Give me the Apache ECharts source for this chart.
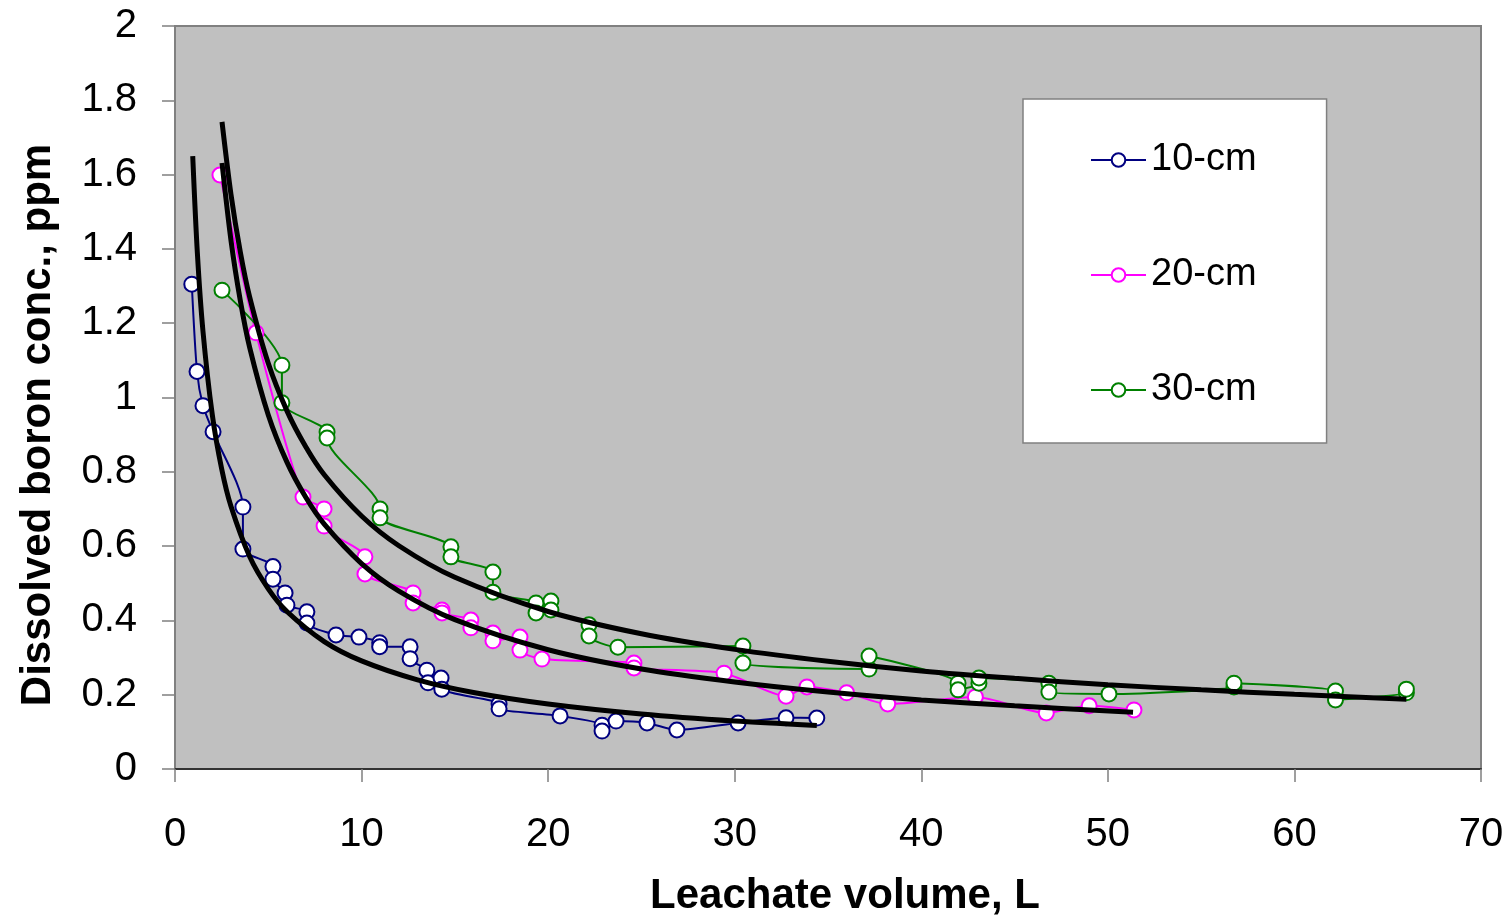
<!DOCTYPE html>
<html>
<head>
<meta charset="utf-8">
<script src="https://cdn.jsdelivr.net/npm/echarts@6/dist/echarts.min.js"></script>
<style>
html,body{margin:0;padding:0;background:#fff;}
#chart{width:1511px;height:922px;}
</style>
</head>
<body>
<div id="chart"></div>
<script>
// ---- data ----
var xTicks = [0, 10, 20, 30, 40, 50, 60, 70];
var yTicks = [0, 0.2, 0.4, 0.6, 0.8, 1, 1.2, 1.4, 1.6, 1.8, 2];

var seriesNames = ['10-cm', '20-cm', '30-cm'];

var depth10X = [0.9, 1.18, 1.5, 2.04, 3.64, 3.64, 5.25, 5.25, 5.9, 6.0, 7.07, 7.07, 8.63, 9.86, 10.97, 10.97, 12.6, 12.6, 13.5, 13.56, 14.26, 14.3, 17.37, 17.37, 20.64, 22.89, 22.89, 23.64, 25.3, 26.9, 30.18, 32.75, 34.4];
var depth10Y = [1.305, 1.07, 0.978, 0.908, 0.705, 0.592, 0.545, 0.511, 0.474, 0.441, 0.423, 0.393, 0.361, 0.355, 0.34, 0.329, 0.329, 0.297, 0.266, 0.232, 0.245, 0.215, 0.175, 0.162, 0.143, 0.118, 0.102, 0.129, 0.124, 0.105, 0.124, 0.138, 0.137];

var depth20X = [2.41, 4.34, 6.86, 7.99, 7.99, 10.18, 10.18, 12.76, 12.76, 14.31, 14.31, 15.86, 15.86, 17.04, 17.04, 18.49, 18.49, 19.67, 24.6, 24.6, 29.43, 32.75, 33.87, 36.0, 38.2, 42.9, 46.7, 49.0, 51.4];
var depth20Y = [1.599, 1.174, 0.732, 0.700, 0.654, 0.571, 0.525, 0.474, 0.447, 0.428, 0.420, 0.401, 0.380, 0.366, 0.345, 0.355, 0.320, 0.296, 0.285, 0.272, 0.258, 0.196, 0.221, 0.205, 0.175, 0.194, 0.151, 0.170, 0.159];

var depth30X = [2.52, 5.73, 5.73, 8.15, 8.15, 10.99, 10.99, 14.79, 14.79, 17.04, 17.04, 19.35, 19.35, 20.15, 20.15, 22.19, 22.19, 23.74, 30.44, 30.44, 37.2, 37.2, 41.97, 41.97, 43.09, 43.09, 46.84, 46.84, 50.06, 56.76, 56.76, 62.2, 62.2, 66.0, 66.0];
var depth30Y = [1.289, 1.087, 0.986, 0.907, 0.891, 0.700, 0.676, 0.598, 0.571, 0.530, 0.476, 0.447, 0.420, 0.452, 0.428, 0.388, 0.358, 0.328, 0.331, 0.285, 0.269, 0.304, 0.231, 0.213, 0.231, 0.245, 0.231, 0.207, 0.202, 0.221, 0.231, 0.210, 0.186, 0.205, 0.215];

// black trend curves
var trend10X = [0.95, 1.2, 1.5, 2, 2.5, 3, 4, 5, 6, 8, 10, 13, 16, 20, 25, 30, 34.4];
var trend10Y = [1.65, 1.388, 1.178, 0.953, 0.808, 0.707, 0.572, 0.485, 0.424, 0.343, 0.291, 0.240, 0.206, 0.175, 0.148, 0.129, 0.117];
var trend20X = [2.52, 3, 3.5, 4, 5, 6, 7, 8, 10, 12, 15, 20, 25, 30, 35, 40, 45, 51.35];
var trend20Y = [1.631, 1.423, 1.261, 1.135, 0.953, 0.826, 0.732, 0.659, 0.553, 0.479, 0.402, 0.321, 0.269, 0.234, 0.207, 0.186, 0.170, 0.153];
var trend30X = [2.52, 3, 3.5, 4, 5, 6, 7, 8, 10, 12, 15, 20, 25, 30, 35, 40, 45, 50, 55, 60, 66];
var trend30Y = [1.742, 1.547, 1.392, 1.271, 1.092, 0.964, 0.868, 0.792, 0.681, 0.601, 0.516, 0.424, 0.364, 0.322, 0.290, 0.264, 0.244, 0.227, 0.213, 0.201, 0.188];

var xTitle = 'Leachate volume, L';
var yTitle = 'Dissolved boron conc., ppm';

// ---- build ----
function pairs(xs, ys) { return xs.map(function (x, i) { return [x, ys[i]]; }); }

var FONT = '"Liberation Sans", Arial, sans-serif';
var colors = ['#000080', '#FF00FF', '#008000'];
var dataSets = [pairs(depth10X, depth10Y), pairs(depth20X, depth20Y), pairs(depth30X, depth30Y)];
var trendSets = [pairs(trend10X, trend10Y), pairs(trend20X, trend20Y), pairs(trend30X, trend30Y)];

var series = [];
dataSets.forEach(function (d, i) {
  series.push({
    name: seriesNames[i],
    type: 'line',
    data: d,
    smooth: 0.25,
    symbol: 'circle',
    symbolSize: 15,
    showAllSymbol: true,
    lineStyle: { color: colors[i], width: 2 },
    itemStyle: { color: '#ffffff', borderColor: colors[i], borderWidth: 2 },
    emphasis: { disabled: true },
    z: 2
  });
});
trendSets.forEach(function (d, i) {
  series.push({
    name: 'trend ' + seriesNames[i],
    type: 'line',
    data: d,
    smooth: 0.3,
    showSymbol: false,
    symbol: 'none',
    lineStyle: { color: '#000000', width: 5, cap: 'butt' },
    emphasis: { disabled: true },
    z: 3
  });
});

var chart = echarts.init(document.getElementById('chart'), null, { renderer: 'canvas' });
chart.setOption({
  animation: false,
  backgroundColor: '#ffffff',
  grid: {
    left: 175, right: 30, top: 26, bottom: 153,
    show: true, backgroundColor: '#C0C0C0', borderColor: '#808080', borderWidth: 2
  },
  legend: {
    data: seriesNames,
    orient: 'vertical',
    left: 1023, top: 99,
    backgroundColor: '#ffffff',
    borderColor: '#808080',
    borderWidth: 1.5,
    borderRadius: 0,
    padding: [41, 70, 33, 67],
    itemGap: 75,
    itemWidth: 55,
    itemHeight: 17,
    selectedMode: false,
    textStyle: { fontFamily: FONT, fontSize: 38, color: '#000', lineHeight: 40 }
  },
  xAxis: {
    type: 'value', min: xTicks[0], max: xTicks[xTicks.length - 1], interval: xTicks[1] - xTicks[0],
    axisLine: { show: true, lineStyle: { color: '#333333', width: 2 } },
    axisTick: { show: true, inside: false, length: 13, lineStyle: { color: '#808080', width: 1.5 } },
    splitLine: { show: false },
    axisLabel: { fontFamily: FONT, fontSize: 40, color: '#000', margin: 46 }
  },
  yAxis: {
    type: 'value', min: yTicks[0], max: yTicks[yTicks.length - 1], interval: 0.2,
    axisLine: { show: true, lineStyle: { color: '#808080', width: 2 } },
    axisTick: { show: true, inside: false, length: 13, lineStyle: { color: '#808080', width: 1.5 } },
    splitLine: { show: false },
    axisLabel: { fontFamily: FONT, fontSize: 40, color: '#000', margin: 38 }
  },
  graphic: [
    {
      type: 'text', x: 845, y: 896, z: 10,
      style: { text: xTitle, font: 'bold 42px ' + FONT, fill: '#000', textAlign: 'center', textVerticalAlign: 'middle' }
    },
    {
      type: 'text', x: 38, y: 425, rotation: Math.PI / 2, z: 10,
      style: { text: yTitle, font: 'bold 42px ' + FONT, fill: '#000', textAlign: 'center', textVerticalAlign: 'middle' }
    }
  ],
  series: series
});
</script>
</body>
</html>
